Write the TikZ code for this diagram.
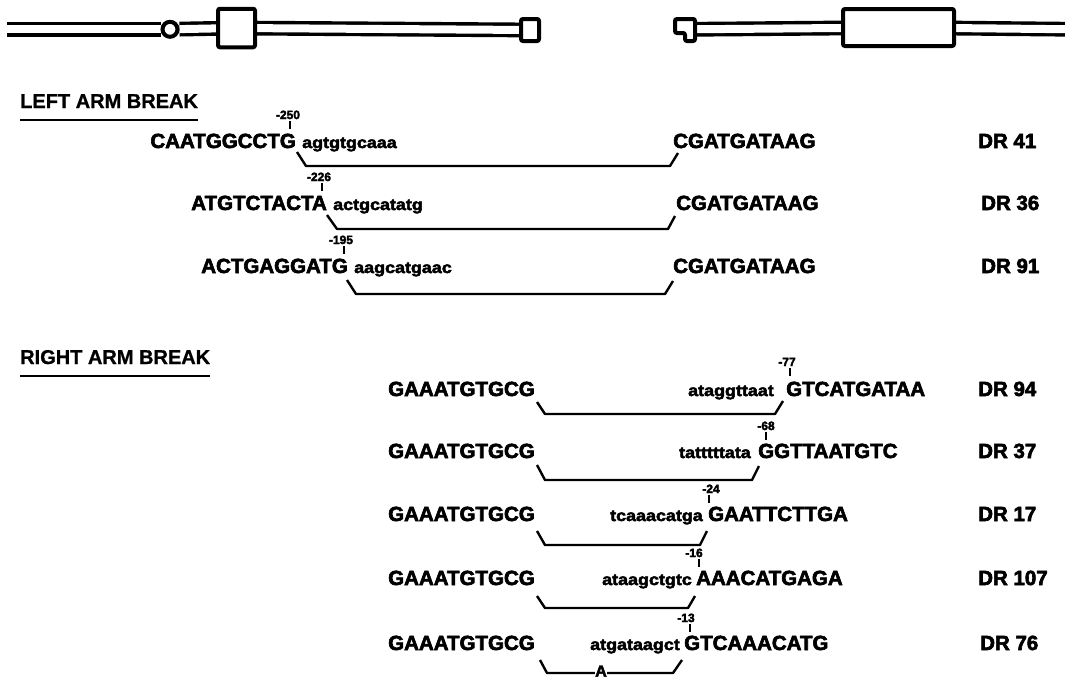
\documentclass[tikz,border=0pt]{standalone}
\usepackage{fontspec}
\setmainfont{Liberation Sans}[BoldFeatures={FakeBold=3}]
\newfontfamily\minfam{Liberation Sans}[FakeStretch=1.12, BoldFeatures={FakeBold=3}]
\newfontfamily\titfam{Liberation Sans}[BoldFeatures={FakeBold=1}]
\usetikzlibrary{backgrounds}
\tikzset{
  gen/.style={draw, line width=4pt, fill=white, rounded corners=2pt, inner sep=0pt},
  rail/.style={double=white, double distance=8pt, line width=3.4pt},
  seq/.style={font=\fontsize{20.5}{24}\selectfont\bfseries, inner sep=0pt},
  del/.style={font=\minfam\fontsize{16}{19}\selectfont\bfseries, inner sep=0pt},
  posn/.style={font=\fontsize{12}{14}\selectfont\bfseries, inner sep=0pt},
  clon/.style={font=\fontsize{20.5}{24}\selectfont\bfseries, inner sep=0pt},
  tit/.style={font=\titfam\fontsize{20}{24}\selectfont\bfseries, inner sep=0pt},
  llave/.style={line width=2.4pt, line join=round},
  tic/.style={line width=2.4pt},
  sub/.style={line width=2.8pt},
}
\begin{document}
\begin{tikzpicture}[x=1pt, y=-1pt]
  \useasboundingbox (0,0) rectangle (1065,678);
  % gene map
  \coordinate (w0) at (7,29.3);
  \coordinate (e0) at (1075,29.3);
  \coordinate (cola) at (690,29.3);
  \node[gen, circle, minimum size=15pt] (prom) at (170,29.3) {};
  \node[gen, minimum width=37pt, minimum height=38.5pt] (ex1) at (236.5,28) {};
  \node[gen, minimum width=18pt, minimum height=22pt] (ex2) at (530,30) {};
  \node[gen, minimum width=111pt, minimum height=37pt] (ex3) at (898.5,27.5) {};
  \draw[gen] (675,19) -- (695,19) -- (695,41) -- (685,41) -- (685,33) -- (675,33) -- cycle;
  \begin{scope}[on background layer]
    \draw[rail] (w0) -- (prom); \draw[rail] (prom) -- (ex1); \draw[rail] (ex1) -- (ex2);
    \draw[rail] (cola) -- (ex3); \draw[rail] (ex3) -- (e0);
  \end{scope}

  % left arm
  \node[tit, anchor=base west] (hl) at (20,108) {LEFT ARM BREAK};
  \draw[sub] ([yshift=-12pt]hl.base west) -- ([yshift=-12pt]hl.base east);

  \node[seq, anchor=base east] (a1) at (296,148) {CAATGGCCTG};
  \node[del, anchor=base west] (b1) at (302,148) {agtgtgcaaa};
  \node[seq, anchor=base west] (c1) at (673,148) {CGATGATAAG};
  \node[clon, anchor=base west] (d1) at (978,148) {DR 41};
  \node[posn, anchor=base] (p1) at (288,119) {-250};
  \draw[tic] (p1.south) ++(2,2) -- ++(0,8);
  \draw[llave] (297,152) -- (306,166) -- (670,166) -- (678,153);

  \node[seq, anchor=base east] (a2) at (327,210) {ATGTCTACTA};
  \node[del, anchor=base west] (b2) at (333,210) {actgcatatg};
  \node[seq, anchor=base west] (c2) at (676,210) {CGATGATAAG};
  \node[clon, anchor=base west] (d2) at (981,210) {DR 36};
  \node[posn, anchor=base] (p2) at (319,181) {-226};
  \draw[tic] (p2.south) ++(3,2) -- ++(0,8);
  \draw[llave] (327,215) -- (337,229) -- (668,229) -- (675,216);

  \node[seq, anchor=base east] (a3) at (348,273) {ACTGAGGATG};
  \node[del, anchor=base west] (b3) at (354,273) {aagcatgaac};
  \node[seq, anchor=base west] (c3) at (673,273) {CGATGATAAG};
  \node[clon, anchor=base west] (d3) at (981,273) {DR 91};
  \node[posn, anchor=base] (p3) at (341,244) {-195};
  \draw[tic] (p3.south) ++(3,2) -- ++(0,8);
  \draw[llave] (347,280) -- (356,294) -- (665,294) -- (673,281);

  % right arm
  \node[tit, anchor=base west] (hr) at (20,364) {RIGHT ARM BREAK};
  \draw[sub] ([yshift=-12pt]hr.base west) -- ([yshift=-12pt]hr.base east);

  \node[seq, anchor=base west] (a4) at (388,396) {GAAATGTGCG};
  \node[del, anchor=base east] (b4) at (774,396) {ataggttaat};
  \node[seq, anchor=base west] (c4) at (786,396) {GTCATGATAA};
  \node[clon, anchor=base west] (d4) at (978,396) {DR 94};
  \node[posn, anchor=base] (p4) at (787,366) {-77};
  \draw[tic] (p4.south) ++(3,2) -- ++(0,8);
  \draw[llave] (537,402) -- (545,414) -- (775,414) -- (783,401);

  \node[seq, anchor=base west] (a5) at (388,458) {GAAATGTGCG};
  \node[del, anchor=base east] (b5) at (751,458) {tatttttata};
  \node[seq, anchor=base west] (c5) at (758,458) {GGTTAATGTC};
  \node[clon, anchor=base west] (d5) at (978,458) {DR 37};
  \node[posn, anchor=base] (p5) at (766,430) {-68};
  \draw[tic] (p5.south) ++(0,2) -- ++(0,8);
  \draw[llave] (537,465) -- (545,480) -- (752,480) -- (759,466);

  \node[seq, anchor=base west] (a6) at (388,521) {GAAATGTGCG};
  \node[del, anchor=base east] (b6) at (703,521) {tcaaacatga};
  \node[seq, anchor=base west] (c6) at (708,521) {GAATTCTTGA};
  \node[clon, anchor=base west] (d6) at (978,521) {DR 17};
  \node[posn, anchor=base] (p6) at (711,493) {-24};
  \draw[tic] (p6.south) ++(-2,2) -- ++(0,8);
  \draw[llave] (537,531) -- (545,545) -- (700,545) -- (707,531);

  \node[seq, anchor=base west] (a7) at (388,585) {GAAATGTGCG};
  \node[del, anchor=base east] (b7) at (692,585) {ataagctgtc};
  \node[seq, anchor=base west] (c7) at (696,585) {AAACATGAGA};
  \node[clon, anchor=base west] (d7) at (978,585) {DR 107};
  \node[posn, anchor=base] (p7) at (694,557) {-16};
  \draw[tic] (p7.south) ++(5,2) -- ++(0,8);
  \draw[llave] (537,596) -- (545,608) -- (688,608) -- (695,596);

  \node[seq, anchor=base west] (a8) at (388,650) {GAAATGTGCG};
  \node[del, anchor=base east] (b8) at (680,650) {atgataagct};
  \node[seq, anchor=base west] (c8) at (684,650) {GTCAAACATG};
  \node[clon, anchor=base west] (d8) at (980,650) {DR 76};
  \node[posn, anchor=base] (p8) at (686,622) {-13};
  \draw[tic] (p8.south) ++(4,2) -- ++(0,8);
  \draw[llave] (540,660) -- (547,673) -- (673,673) -- (682,660);
  \node[font=\fontsize{16}{18}\selectfont\bfseries, fill=white, inner sep=0.6pt] (dl) at (601,671) {A};
\end{tikzpicture}
\end{document}
